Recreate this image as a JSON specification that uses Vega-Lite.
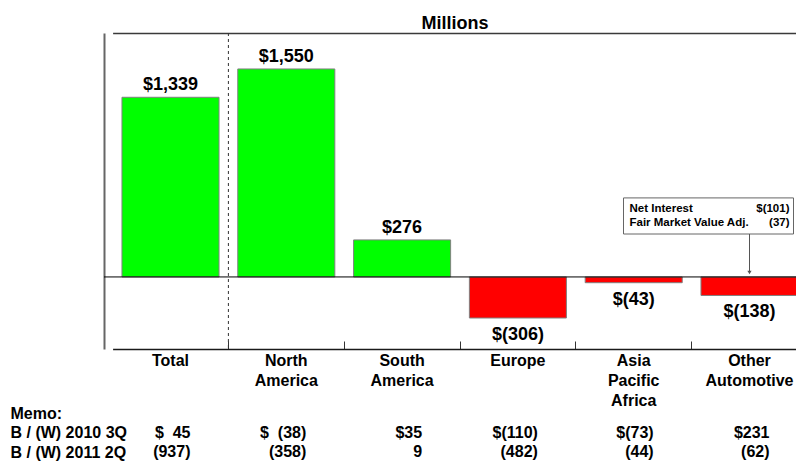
{
  "$schema": "https://vega.github.io/schema/vega-lite/v6.json",
  "autosize": "none",
  "width": 692,
  "height": 316,
  "padding": {"left": 104, "top": 33, "right": 0, "bottom": 113},
  "background": "white",
  "config": {"view": {"stroke": null}, "font": "Liberation Sans"},
  "title": {"text": "Millions", "font": "Liberation Sans", "fontSize": 18, "fontWeight": "bold", "color": "black", "anchor": "middle", "frame": "group", "baseline": "bottom", "offset": -18, "dx": 5},
  "datasets": {
    "bars": [
      {"cat": "Total", "value": 1339, "label": "$1,339"},
      {"cat": "North America", "value": 1550, "label": "$1,550"},
      {"cat": "South America", "value": 276, "label": "$276"},
      {"cat": "Europe", "value": -306, "label": "$(306)"},
      {"cat": "Asia Pacific Africa", "value": -43, "label": "$(43)"},
      {"cat": "Other Automotive", "value": -138, "label": "$(138)"}
    ],
    "memo": [
      {"cat": "Total", "row": "B / (W) 2010 3Q", "text": "$\u00a0\u00a045\u00a0"},
      {"cat": "Total", "row": "B / (W) 2011 2Q", "text": "(937)"},
      {"cat": "North America", "row": "B / (W) 2010 3Q", "text": "$\u00a0\u00a0(38)"},
      {"cat": "North America", "row": "B / (W) 2011 2Q", "text": "(358)"},
      {"cat": "South America", "row": "B / (W) 2010 3Q", "text": "$35\u00a0\u00a0"},
      {"cat": "South America", "row": "B / (W) 2011 2Q", "text": "9\u00a0\u00a0"},
      {"cat": "Europe", "row": "B / (W) 2010 3Q", "text": "$(110)"},
      {"cat": "Europe", "row": "B / (W) 2011 2Q", "text": "(482)"},
      {"cat": "Asia Pacific Africa", "row": "B / (W) 2010 3Q", "text": "$(73)"},
      {"cat": "Asia Pacific Africa", "row": "B / (W) 2011 2Q", "text": "(44)"},
      {"cat": "Other Automotive", "row": "B / (W) 2010 3Q", "text": "$231\u00a0"},
      {"cat": "Other Automotive", "row": "B / (W) 2011 2Q", "text": "(62)"}
    ],
    "note": [
      {"cat": "Other Automotive", "item1": "Net Interest", "amt1": "$(101)", "item2": "Fair Market Value Adj.", "amt2": "(37)"}
    ]
  },
  "layer": [
    {
      "layer": [
        {
          "data": {"name": "bars"},
          "mark": {"type": "bar", "width": {"band": 0.838}, "stroke": "#808080", "strokeWidth": 1},
          "encoding": {
            "x": {
              "field": "cat", "type": "nominal", "sort": null,
              "scale": {"type": "band", "domain": ["Total", "North America", "South America", "Europe", "Asia Pacific Africa", "Other Automotive"], "range": [8.6, 703.4], "paddingInner": 0, "paddingOuter": 0},
              "axis": {
                "orient": "bottom", "title": null, "domain": true, "domainColor": "#1a1a1a", "domainWidth": 1.5,
                "ticks": true, "tickSize": -8, "tickColor": "#333333", "tickWidth": 1, "bandPosition": 0,
                "tickOpacity": {"condition": {"test": "datum.value === 'Total'", "value": 0}, "value": 1},
                "labelExpr": "split(datum.label, ' ')", "labelFont": "Liberation Sans", "labelFontWeight": "bold",
                "labelFontSize": 16, "labelColor": "black", "labelLineHeight": 20, "labelPadding": 11.5,
                "labelAngle": 0, "labelBaseline": "top", "labelLimit": 200, "grid": false
              }
            },
            "y": {
              "field": "value", "type": "quantitative",
              "scale": {"domain": [-537, 1818], "nice": false, "zero": false},
              "axis": {"orient": "left", "title": null, "labels": false, "ticks": false, "grid": false, "domain": true, "domainColor": "#666666", "domainWidth": 2}
            },
            "color": {"condition": {"test": "datum.value < 0", "value": "#ff0000"}, "value": "#00ff00"}
          }
        },
        {
          "data": {"values": [{}]},
          "mark": {"type": "rule", "color": "black", "strokeWidth": 1},
          "encoding": {"y": {"datum": 0}}
        },
        {
          "data": {"values": [{"cat": "North America"}]},
          "mark": {"type": "rule", "color": "#333333", "strokeWidth": 1, "strokeDash": [3, 3]},
          "encoding": {"x": {"field": "cat", "type": "nominal", "bandPosition": 0, "axis": null}}
        },
        {
          "data": {"name": "bars"},
          "transform": [{"filter": "datum.value >= 0"}],
          "mark": {"type": "text", "baseline": "alphabetic", "dy": -7, "fontSize": 18, "fontWeight": "bold", "font": "Liberation Sans", "color": "black"},
          "encoding": {
            "x": {"field": "cat", "type": "nominal", "axis": {"orient": "top", "title": null, "labels": false, "ticks": false, "grid": false, "domain": true, "domainColor": "#3a3a3a", "domainWidth": 1.5}},
            "y": {"field": "value", "type": "quantitative"},
            "text": {"field": "label"}
          }
        },
        {
          "data": {"name": "bars"},
          "transform": [{"filter": "datum.value < 0"}],
          "mark": {"type": "text", "baseline": "top", "dy": 8, "fontSize": 18, "fontWeight": "bold", "font": "Liberation Sans", "color": "black"},
          "encoding": {
            "x": {"field": "cat", "type": "nominal", "axis": null},
            "y": {"field": "value", "type": "quantitative"},
            "text": {"field": "label"}
          }
        },
        {
          "data": {"name": "note"},
          "mark": {"type": "bar", "width": 170, "xOffset": -41, "fill": "white", "stroke": "#666666", "strokeWidth": 1},
          "encoding": {
            "x": {"field": "cat", "type": "nominal", "axis": null},
            "y": {"datum": 589},
            "y2": {"datum": 320}
          }
        },
        {
          "data": {"name": "note"},
          "mark": {"type": "rule", "color": "#555555", "strokeWidth": 1},
          "encoding": {
            "x": {"field": "cat", "type": "nominal", "axis": null},
            "y": {"datum": 320},
            "y2": {"datum": 38}
          }
        },
        {
          "data": {"name": "note"},
          "mark": {"type": "point", "shape": "triangle-down", "filled": true, "size": 18, "color": "#555555", "opacity": 1},
          "encoding": {
            "x": {"field": "cat", "type": "nominal", "axis": null},
            "y": {"datum": 33}
          }
        },
        {
          "data": {"name": "note"},
          "mark": {"type": "text", "align": "left", "baseline": "middle", "dx": -120, "fontSize": 11.5, "fontWeight": "bold", "font": "Liberation Sans", "color": "black"},
          "encoding": {"x": {"field": "cat", "type": "nominal", "axis": null}, "y": {"datum": 507}, "text": {"field": "item1"}}
        },
        {
          "data": {"name": "note"},
          "mark": {"type": "text", "align": "right", "baseline": "middle", "dx": 40, "fontSize": 11.5, "fontWeight": "bold", "font": "Liberation Sans", "color": "black"},
          "encoding": {"x": {"field": "cat", "type": "nominal", "axis": null}, "y": {"datum": 507}, "text": {"field": "amt1"}}
        },
        {
          "data": {"name": "note"},
          "mark": {"type": "text", "align": "left", "baseline": "middle", "dx": -120, "fontSize": 11.5, "fontWeight": "bold", "font": "Liberation Sans", "color": "black"},
          "encoding": {"x": {"field": "cat", "type": "nominal", "axis": null}, "y": {"datum": 402}, "text": {"field": "item2"}}
        },
        {
          "data": {"name": "note"},
          "mark": {"type": "text", "align": "right", "baseline": "middle", "dx": 40, "fontSize": 11.5, "fontWeight": "bold", "font": "Liberation Sans", "color": "black"},
          "encoding": {"x": {"field": "cat", "type": "nominal", "axis": null}, "y": {"datum": 402}, "text": {"field": "amt2"}}
        }
      ],
      "resolve": {"axis": {"x": "independent"}}
    },
    {
      "data": {"name": "memo"},
      "mark": {"type": "text", "align": "right", "baseline": "middle", "dx": 20, "fontSize": 16, "fontWeight": "bold", "font": "Liberation Sans", "color": "black"},
      "encoding": {
        "x": {"field": "cat", "type": "nominal", "axis": null},
        "y": {
          "field": "row", "type": "nominal",
          "scale": {"type": "point", "domain": ["Memo:", "B / (W) 2010 3Q", "B / (W) 2011 2Q"], "range": [380, 419], "padding": 0},
          "axis": {"orient": "left", "title": null, "domain": false, "ticks": false, "grid": false, "labelPadding": 94, "labelAlign": "left", "labelBaseline": "middle", "labelFont": "Liberation Sans", "labelFontWeight": "bold", "labelFontSize": 16, "labelColor": "black", "labelLimit": 300}
        },
        "text": {"field": "text"}
      }
    }
  ],
  "resolve": {"scale": {"y": "independent"}, "axis": {"x": "independent", "y": "independent"}}
}
